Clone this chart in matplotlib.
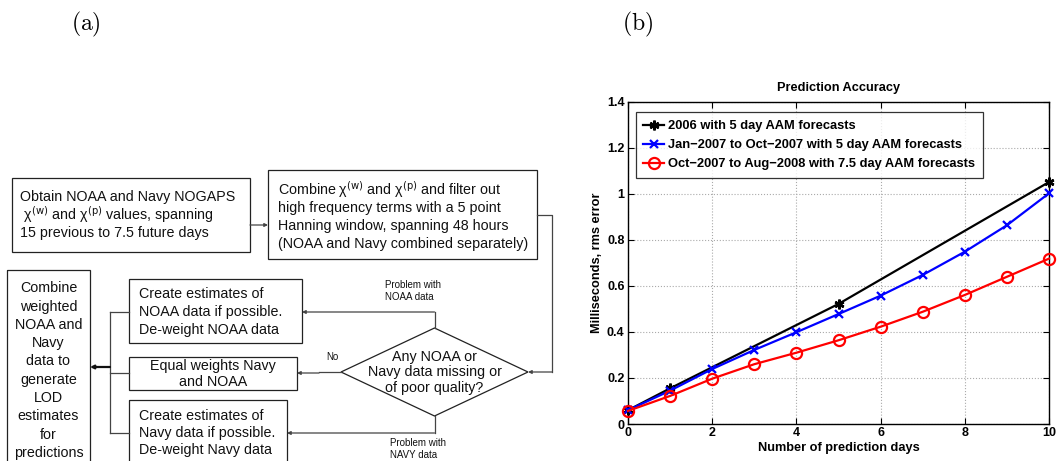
import matplotlib
matplotlib.use("Agg")
import matplotlib.pyplot as plt
from matplotlib.patches import Rectangle, Polygon

# ---------------- data (panel b) ----------------
days = [0, 1, 2, 3, 4, 5, 6, 7, 8, 9, 10]
days_2006 = [0, 1, 5, 10]
err_2006 = [0.06, 0.155, 0.522, 1.052]
err_2007 = [0.06, 0.145, 0.239, 0.322, 0.399, 0.478, 0.558, 0.648, 0.749, 0.864, 1.003]
err_2008 = [0.057, 0.122, 0.197, 0.260, 0.310, 0.364, 0.423, 0.488, 0.561, 0.640, 0.719]
labels = ["2006 with 5 day AAM forecasts",
          "Jan\u22122007 to Oct\u22122007 with 5 day AAM forecasts",
          "Oct\u22122007 to Aug\u22122008 with 7.5 day AAM forecasts"]
xticks = [0, 2, 4, 6, 8, 10]
yticks = [0, 0.2, 0.4, 0.6, 0.8, 1.0, 1.2, 1.4]
ytick_labels = ["0", "0.2", "0.4", "0.6", "0.8", "1", "1.2", "1.4"]

W, H = 1057, 461
fig = plt.figure(figsize=(W / 100, H / 100), dpi=100)

# ---------------- panel (a): flowchart in pixel coordinates ----------------
fa = fig.add_axes([0, 0, 1, 1])
fa.set_xlim(0, W)
fa.set_ylim(H, 0)
fa.axis("off")

SANS = "Liberation Sans"
FS = 10.3
EC = "#222222"
LC = "#444444"
CHW = "\u03c7$^{\\mathrm{(w)}}$"
CHP = "\u03c7$^{\\mathrm{(p)}}$"


def box(x0, y0, x1, y1):
    fa.add_patch(Rectangle((x0, y0), x1 - x0, y1 - y0, fill=False,
                           ec=EC, lw=0.9, clip_on=False))


def lines(x, ys, texts, ha="left", fs=FS):
    for y, t in zip(ys, texts):
        fa.text(x, y, t, ha=ha, va="center", fontsize=fs, family=SANS,
                color="#111111", clip_on=False)


def arrow(x0, y0, x1, y1):
    fa.annotate("", xy=(x1, y1), xytext=(x0, y0),
                arrowprops=dict(arrowstyle="-|>", color=LC, lw=0.9,
                                mutation_scale=5, shrinkA=0, shrinkB=0),
                annotation_clip=False)


def seg(xs, ys):
    fa.plot(xs, ys, color=LC, lw=0.9, clip_on=False)


# box 1
box(12, 178, 250, 252)
lines(20, [197, 215, 233], ["Obtain NOAA and Navy NOGAPS",
                            " " + CHW + " and " + CHP + " values, spanning",
                            "15 previous to 7.5 future days"])
arrow(250, 225, 268, 225)

# box 2
box(268, 170, 537, 259)
lines(278, [190, 208, 226, 244], ["Combine " + CHW + " and " + CHP + " and filter out",
                                  "high frequency terms with a 5 point",
                                  "Hanning window, spanning 48 hours",
                                  "(NOAA and Navy combined separately)"])
seg([537, 552, 552], [215, 215, 372])
arrow(552, 372, 528, 372)

# diamond
cx, cy, hw, hh = 434.5, 372, 93.5, 44
fa.add_patch(Polygon([(cx - hw, cy), (cx, cy - hh), (cx + hw, cy), (cx, cy + hh)],
                     closed=True, fill=False, ec=EC, lw=0.9, clip_on=False))
lines(cx, [357, 372, 388], ["Any NOAA or", "Navy data missing or", "of poor quality?"],
      ha="center")

# branches from diamond
seg([cx, cx], [cy - hh, 312])
arrow(cx, 312, 302, 312)
lines(385, [285, 297], ["Problem with", "NOAA data"], fs=7)
seg([cx - hw, 319], [372, 372])
arrow(319, 373, 297, 373)
lines(332, [357], ["No"], fs=7, ha="center")
seg([cx, cx], [cy + hh, 433])
arrow(cx, 433, 287, 433)
lines(390, [443, 455], ["Problem with", "NAVY data"], fs=7)

# left-side option boxes
box(129, 279, 302, 343)
lines(139, [294, 312, 330], ["Create estimates of", "NOAA data if possible.",
                             "De-weight NOAA data"])
box(129, 357, 297, 390)
lines(213, [366, 382], ["Equal weights Navy", "and NOAA"], ha="center")
box(129, 400, 287, 475)
lines(139, [416, 433, 450], ["Create estimates of", "Navy data if possible.",
                             "De-weight Navy data"])

# combining connector
seg([110, 110], [312, 433])
seg([110, 129], [312, 312])
seg([110, 129], [373, 373])
seg([110, 129], [433, 433])
fa.annotate("", xy=(90, 367), xytext=(110, 367),
            arrowprops=dict(arrowstyle="-|>", color="#111111", lw=1.6,
                            mutation_scale=5, shrinkA=0, shrinkB=0),
            annotation_clip=False)

# final box
box(7, 270, 90, 475)
lines(48.5, [288, 307, 325, 343, 361, 380, 398, 416, 435, 453],
      ["Combine", "weighted", "NOAA and", "Navy", "data to", "generate",
       "LOD", "estimates", "for", "predictions"], ha="center")

# panel labels
fa.text(86, 24, r"$\mathrm{(a)}$", ha="center", va="center", fontsize=17,
        math_fontfamily="cm")
fa.text(638, 24, r"$\mathrm{(b)}$", ha="center", va="center", fontsize=17,
        math_fontfamily="cm")

# ---------------- panel (b): line chart ----------------
l, r, t, b = 628, 1049, 102, 424
ax = fig.add_axes([l / W, 1 - b / H, (r - l) / W, (b - t) / H])
ax.plot(days_2006, err_2006, color="black", lw=1.6, marker=(6, 2, 0),
        ms=7, mew=1.8, label=labels[0], clip_on=False, zorder=3)
ax.plot(days, err_2007, color="blue", lw=1.6, marker="x", ms=5.5, mew=1.6,
        label=labels[1], clip_on=False, zorder=4)
ax.plot(days, err_2008, color="red", lw=1.6, marker="o", ms=8, mew=1.6,
        mfc="none", label=labels[2], clip_on=False, zorder=5)

ax.set_xlim(0, 10)
ax.set_ylim(0, 1.4)
ax.set_xticks(xticks)
ax.set_yticks(yticks)
ax.set_yticklabels(ytick_labels)
ax.grid(True, linestyle=":", color="#aaaaaa", lw=0.8)
ax.tick_params(direction="in", top=True, right=True, length=4, width=0.8,
               labelsize=9, pad=2.5)
for lab in ax.get_xticklabels() + ax.get_yticklabels():
    lab.set_fontweight("bold")
    lab.set_family(SANS)
for s in ax.spines.values():
    s.set_linewidth(1.0)
ax.set_title("Prediction Accuracy", fontsize=9.2, fontweight="bold",
             family=SANS, pad=8)
ax.set_xlabel("Number of prediction days", fontsize=9.2, fontweight="bold",
              family=SANS, labelpad=1.5)
ax.set_ylabel("Milliseconds, rms error", fontsize=9.2, fontweight="bold",
              family=SANS, labelpad=3)
leg = ax.legend(loc="upper left", bbox_to_anchor=(0.018, 0.968),
                prop=dict(family=SANS, weight="bold", size=9.3),
                frameon=True, fancybox=False, edgecolor="black",
                handlelength=1.6, handletextpad=0.3, borderpad=0.6,
                labelspacing=0.55, borderaxespad=0)
leg.get_frame().set_linewidth(0.9)

fig.savefig("out.png", dpi=100)
